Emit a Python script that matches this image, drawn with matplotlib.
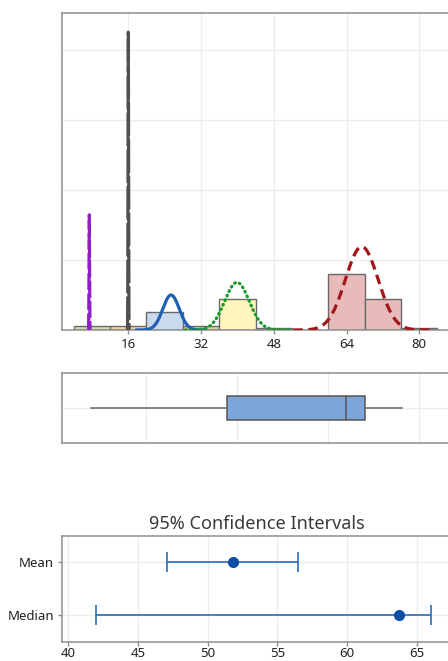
import numpy as np
import matplotlib
matplotlib.use("Agg")
import matplotlib.pyplot as plt

plt.rcParams['font.family'] = ['Noto Sans', 'DejaVu Sans']
plt.rcParams['lines.scale_dashes'] = False

# ---------------- data ----------------
# histogram (bin left edges, width 8, density heights, group colour)
bin_left = [4, 12, 20, 28, 36, 44, 60, 68, 76]
bin_height = [0.00115, 0.00115, 0.0052, 0.00115, 0.0088, 0.0006, 0.0160, 0.0088, 0.0006]
bin_color = ['#cfdcab', '#f6d0a2', '#c9d9ee', '#d8d09b', '#fff5bd', '#707070',
             '#e9baba', '#e9baba', '#707070']
bin_width = 8

# fitted normal curves: mean, sd, peak height
curve_mean = [7.42, 16.0, 25.4, 39.9, 67.35]
curve_sd = [0.06, 0.06, 1.8, 2.7, 3.6]
curve_peak = [0.0329, 0.0851, 0.0100, 0.0136, 0.0238]
curve_color = ['#8d1fc9', '#505050', '#1f5fb4', '#1a9a2b', '#a3171b']
curve_style = [(0, (12, 2.5)), (0, (24, 2.5)), '-',
               (0, (0.6, 3.0)), (0, (7, 4))]

hist_ticks = [16, 32, 48, 64, 80]

# boxplot summary
box_q1, box_med, box_q3 = 37.8, 63.8, 68.0
box_lo, box_hi = 7.7, 76.1

# confidence intervals
ci_labels = ['Mean', 'Median']
ci_center = [51.85, 63.7]
ci_low = [47.05, 42.0]
ci_high = [56.5, 66.05]
ci_ticks = [40, 45, 50, 55, 60, 65]

# ---------------- figure ----------------
W, H = 448, 661
fig = plt.figure(figsize=(W / 100, H / 100), dpi=100)

def fpos(l, t, r, b):
    return [l / W, 1 - b / H, (r - l) / W, (b - t) / H]

spine_c = '#8e8e8e'
grid_c = '#ededed'
txt_c = '#222222'

def style(ax):
    for s in ax.spines.values():
        s.set_color(spine_c)
        s.set_linewidth(1.1)
    ax.set_axisbelow(True)

# x mapping shared by histogram and boxplot: 16 -> 128.3px, 80 -> 419.3px
px_per = (419.3 - 128.3) / 64
x0px = 128.3 - 16 * px_per
L, R = 62, 451
xl = ((L - x0px) / px_per, (R - x0px) / px_per)

# --- histogram panel ---
ax1 = fig.add_axes(fpos(L, 13, R, 330))
style(ax1)
ax1.bar(bin_left, bin_height, width=bin_width, align='edge', color=bin_color,
        edgecolor='#6a6a6a', linewidth=1.0, zorder=2)
for m, s, p, c, ls in zip(curve_mean, curve_sd, curve_peak, curve_color, curve_style):
    x = np.linspace(m - 4.2 * s, m + 4.2 * s, 600)
    y = p * np.exp(-0.5 * ((x - m) / s) ** 2)
    ax1.plot(x, y, color=c, linestyle=ls, linewidth=2.3, zorder=3,
             dash_capstyle='round' if c == '#1a9a2b' else 'butt')
ax1.set_xlim(*xl)
ax1.set_ylim(0, 317 / 70 * 0.02)
ax1.set_xticks(hist_ticks)
ax1.set_yticks([0.02, 0.04, 0.06, 0.08])
ax1.set_yticklabels([])
ax1.tick_params(axis='y', length=0)
ax1.tick_params(axis='x', length=3, width=1, color=spine_c, labelsize=9.5,
                labelcolor=txt_c, pad=3)
ax1.grid(True, color=grid_c, linewidth=1)

# --- boxplot panel ---
ax2 = fig.add_axes(fpos(L, 373, R, 443))
style(ax2)
stats = [dict(q1=box_q1, med=box_med, q3=box_q3, whislo=box_lo, whishi=box_hi,
              fliers=[])]
ax2.bxp(stats, positions=[1], vert=False, widths=0.34, patch_artist=True,
        showcaps=False,
        boxprops=dict(facecolor='#7ba6da', edgecolor='#555555', linewidth=1.1),
        medianprops=dict(color='#555555', linewidth=1.1),
        whiskerprops=dict(color='#666666', linewidth=1.1))
ax2.set_xlim(*xl)
ax2.set_ylim(0.5, 1.5)
ax2.set_xticks([20, 40, 60, 80])
ax2.set_yticks([1])
ax2.set_xticklabels([])
ax2.set_yticklabels([])
ax2.tick_params(length=0)
ax2.grid(True, color=grid_c, linewidth=1)

# --- CI panel ---
ci_px = (416.7 - 68.3) / 25
ci_x0 = 68.3 - 40 * ci_px
ax3 = fig.add_axes(fpos(62.3, 536, R, 641.7))
style(ax3)
ypos = [1, 0]
xerr = [np.array(ci_center) - np.array(ci_low), np.array(ci_high) - np.array(ci_center)]
ax3.errorbar(ci_center, ypos, xerr=xerr, fmt='o', color='#0a4fa3', ms=7,
             ecolor='#2a6bbd', elinewidth=1.2, capsize=7, capthick=1.2, zorder=3)
ax3.set_xlim((62.3 - ci_x0) / ci_px, (R - ci_x0) / ci_px)
ax3.set_ylim(-0.5, 1.5)
ax3.set_xticks(ci_ticks)
ax3.set_yticks(ypos)
ax3.set_yticklabels(ci_labels)
ax3.tick_params(axis='y', length=3, width=1, color=spine_c, labelsize=9.5,
                labelcolor=txt_c, pad=3)
ax3.tick_params(axis='x', length=3, width=1, color=spine_c, labelsize=9.5,
                labelcolor=txt_c, pad=1)
ax3.grid(True, color=grid_c, linewidth=1)
ax3.set_title('95% Confidence Intervals', fontsize=13, color='#3a3a3a', pad=5)

fig.savefig('out.png', dpi=100)
